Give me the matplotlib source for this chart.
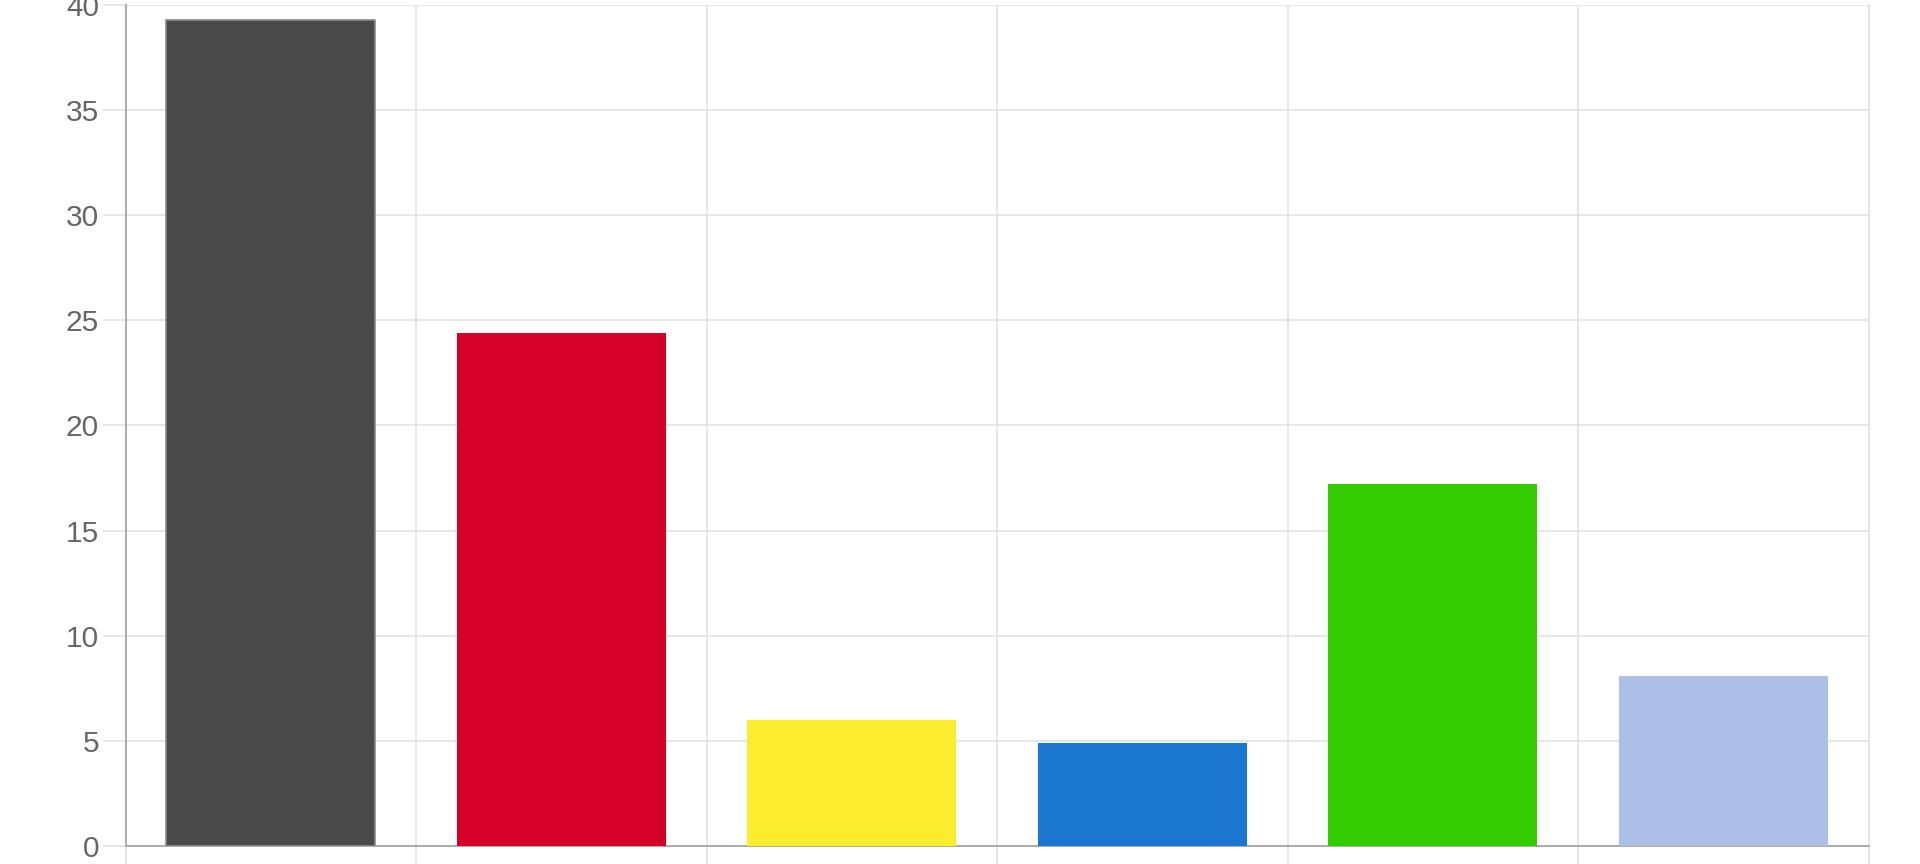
import numpy as np
import matplotlib
matplotlib.use("Agg")
import matplotlib.pyplot as plt

# party shares (percent); axis labels are not shown
categories = ["1", "2", "3", "4", "5", "6"]
values = [39.3, 24.4, 6.0, 4.9, 17.2, 8.1]
colors = ["#4a4a4a", "#d50027", "#fbec2e", "#1a76cf", "#33cc00", "#adbfe5"]
yticks = [0, 5, 10, 15, 20, 25, 30, 35, 40]

plt.rcParams["font.family"] = ["Liberation Sans", "DejaVu Sans"]

fig = plt.figure(figsize=(19.2, 8.64), dpi=100)
ax = fig.add_axes([125.5 / 1920, 18 / 864, (1868.5 - 125.5) / 1920, (846 - 5) / 864])

x = np.arange(len(categories))
bars = ax.bar(x, values, width=0.72, color=colors, zorder=3)
bars[0].set_edgecolor("#8a8a8a")
bars[0].set_linewidth(1.2)

ax.set_xlim(-0.5, len(categories) - 0.5)
ax.set_ylim(0, 40)

# gridlines on category boundaries and y ticks
ax.set_xticks(np.arange(-0.5, len(categories), 1.0))
ax.set_xticklabels([])
ax.set_yticks(yticks)
ax.set_yticklabels([str(t) for t in yticks])
ax.grid(True, color="#e3e3e3", linewidth=1.2, zorder=0)

ax.tick_params(axis="y", length=16.5, width=1.2, color="#e3e3e3",
               labelsize=21.5, labelcolor="#666666", pad=2.5)
ax.tick_params(axis="x", length=13, width=1.2, color="#e3e3e3", direction="out")

for side in ["left", "bottom"]:
    ax.spines[side].set_color("#ababab")
    ax.spines[side].set_linewidth(1.4)
ax.spines["top"].set_visible(False)
ax.spines["right"].set_color("#e3e3e3")
ax.spines["right"].set_linewidth(1.2)

fig.savefig("out.png", dpi=100)
